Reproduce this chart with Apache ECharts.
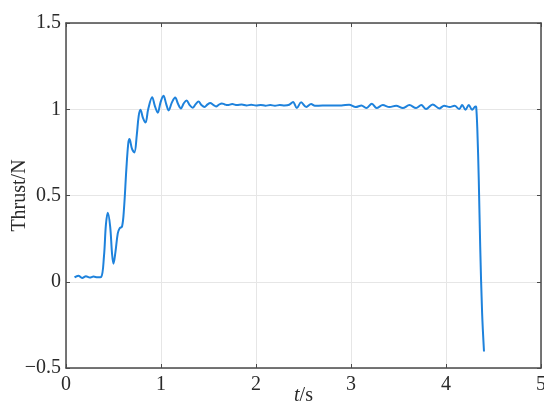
<!DOCTYPE html>
<html><head><meta charset="utf-8">
<script src="https://cdn.jsdelivr.net/npm/echarts@6/dist/echarts.min.js"></script>
<style>html,body{margin:0;padding:0;background:#fff}#c{width:544px;height:406px}</style>
</head><body><div id="c"></div>
<script>
const timeS = [0.09,0.13,0.17,0.21,0.25,0.29,0.33,0.37,0.40,0.42,0.44,0.465,0.485,0.50,0.52,0.545,0.565,0.59,0.61,0.635,0.655,0.668,0.695,0.72,0.745,0.765,0.784,0.81,0.837,0.865,0.907,0.935,0.966,0.995,1.026,1.055,1.08,1.115,1.149,1.18,1.21,1.24,1.27,1.30,1.335,1.365,1.395,1.425,1.458,1.49,1.518,1.55,1.58,1.61,1.64,1.67,1.70,1.75,1.80,1.85,1.90,1.95,2.00,2.05,2.10,2.15,2.20,2.25,2.30,2.35,2.39,2.43,2.475,2.53,2.58,2.62,2.70,2.80,2.90,2.98,3.05,3.11,3.16,3.22,3.27,3.335,3.405,3.475,3.545,3.615,3.685,3.74,3.79,3.86,3.93,3.98,4.04,4.09,4.14,4.17,4.205,4.24,4.275,4.31,4.318,4.33,4.345,4.36,4.38,4.40];
const thrustN = [0.025,0.035,0.022,0.032,0.024,0.030,0.026,0.028,0.15,0.33,0.40,0.32,0.16,0.105,0.17,0.28,0.31,0.32,0.42,0.65,0.80,0.827,0.77,0.75,0.85,0.96,0.997,0.95,0.923,1.00,1.07,1.02,0.98,1.04,1.078,1.03,0.993,1.04,1.068,1.03,1.005,1.035,1.051,1.025,1.009,1.03,1.045,1.025,1.013,1.028,1.036,1.025,1.016,1.027,1.034,1.028,1.024,1.030,1.024,1.027,1.022,1.026,1.022,1.025,1.021,1.024,1.021,1.024,1.022,1.026,1.042,1.007,1.040,1.013,1.030,1.020,1.022,1.022,1.022,1.026,1.013,1.022,1.007,1.032,1.007,1.024,1.013,1.020,1.007,1.024,1.007,1.024,1.001,1.028,1.005,1.020,1.013,1.020,1.001,1.024,0.997,1.024,0.997,1.016,1.013,0.88,0.59,0.205,-0.18,-0.404];
const xTicks = [0,1,2,3,4,5];
const yTicks = [-0.5,0,0.5,1,1.5];

const font = '"Liberation Serif","DejaVu Serif",serif';
const axisCol = '#4a4a4a';
const txtCol = '#2a2a2a';
const fmtY = v => (v < 0 ? '\u2212' + Math.abs(v) : String(v));
const data = timeS.map((t,i)=>[t, thrustN[i]]);
const lineCfg = {show:true,onZero:false,lineStyle:{color:axisCol,width:1.5}};
const tickCfg = {show:true,inside:true,length:4,lineStyle:{color:axisCol}};

const chart = echarts.init(document.getElementById('c'));
chart.setOption({
  animation:false,
  grid:{left:66,right:3,top:23,bottom:38,containLabel:false,outerBoundsMode:'none'},
  xAxis:[{
    type:'value',min:xTicks[0],max:xTicks[xTicks.length-1],interval:1,position:'bottom',
    axisLine:lineCfg,axisTick:tickCfg,
    axisLabel:{color:txtCol,fontFamily:font,fontSize:20,margin:7},
    splitLine:{show:true,lineStyle:{color:'#e6e6e6',width:1}},
    name:'{i|t}/s',nameLocation:'middle',nameGap:18,nameMoveOverlap:false,
    nameTextStyle:{color:txtCol,fontFamily:font,fontSize:20,rich:{i:{fontStyle:'italic',fontFamily:font,fontSize:20,color:txtCol}}}
  },{
    type:'value',min:0,max:5,interval:1,position:'top',
    axisLine:lineCfg,axisTick:tickCfg,
    axisLabel:{show:false},splitLine:{show:false}
  }],
  yAxis:[{
    type:'value',min:yTicks[0],max:yTicks[yTicks.length-1],interval:0.5,position:'left',
    axisLine:lineCfg,axisTick:tickCfg,
    axisLabel:{color:txtCol,fontFamily:font,fontSize:20,margin:5,formatter:fmtY},
    splitLine:{show:true,lineStyle:{color:'#e6e6e6',width:1}},
    name:'Thrust/N',nameLocation:'middle',nameGap:36,nameRotate:90,nameMoveOverlap:false,
    nameTextStyle:{color:txtCol,fontFamily:font,fontSize:20}
  },{
    type:'value',min:-0.5,max:1.5,interval:0.5,position:'right',
    axisLine:lineCfg,axisTick:tickCfg,
    axisLabel:{show:false},splitLine:{show:false}
  }],
  series:[{
    type:'line',data:data,xAxisIndex:0,yAxisIndex:0,
    showSymbol:false,smooth:0.35,
    lineStyle:{color:'#1e82dc',width:2}
  }]
});
</script></body></html>
